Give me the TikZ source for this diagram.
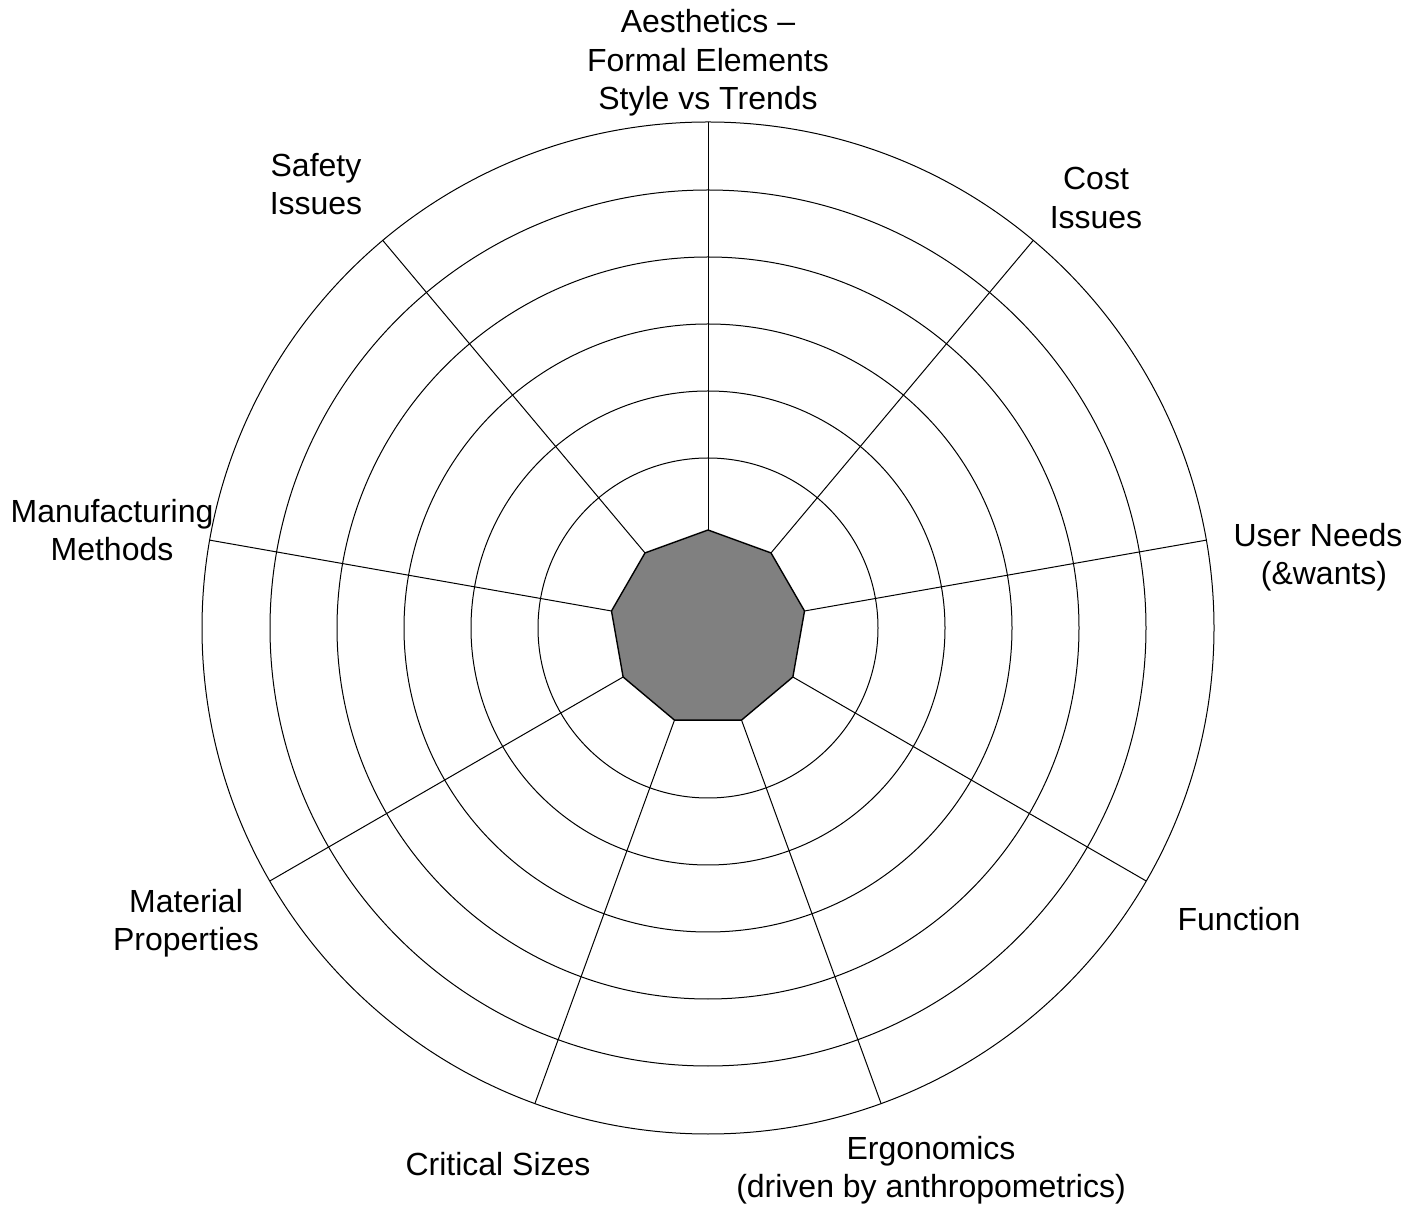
\documentclass[tikz,border=0pt]{standalone}
\usepackage{fontspec}
\setmainfont{Liberation Sans}
\usetikzlibrary{calc}
\begin{document}
\begin{tikzpicture}[x=0.5pt,y=0.5pt,
  ring/.style={draw=black,line width=0.5pt},
  spoke/.style={draw=black,line width=0.5pt},
  core/.style={draw=black,fill=gray!100!white,line width=0.7pt},
  lbl/.style={align=center,inner sep=0pt,font=\fontsize{16pt}{19.2pt}\selectfont}]
\useasboundingbox (0,0) rectangle (1409,1206);
\coordinate (c) at (708,578);
\foreach \r in {170,237,304,371,438,506}
  \draw[ring] (c) circle[radius=\r];
\foreach \i [evaluate=\i as \a using 90-40*(\i-1)] in {1,...,9} {
  \coordinate (v\i) at ($(c)+(\a:98)$);
  \coordinate (o\i) at ($(c)+(\a:506)$);
}
\foreach \i in {1,...,9}
  \draw[spoke] (v\i) -- (o\i);
\draw[core] (v1) -- (v2) -- (v3) -- (v4) -- (v5) -- (v6) -- (v7) -- (v8) -- (v9) -- cycle;
\node[lbl] (aes) at (708,1143) {Aesthetics --\\Formal Elements\\Style vs Trends};
\node[lbl] (safety) at (316,1022) {Safety\\Issues};
\node[lbl] (cost) at (1096,1008) {Cost\\Issues};
\node[lbl] (user) at (1318,649) {User Needs\\\hspace*{6pt}(\&wants)};
\node[lbl] (manuf) at (112,676) {Manufacturing\\Methods};
\node[lbl] (material) at (186,283) {Material\\Properties};
\node[lbl] (function) at (1239,287) {Function};
\node[lbl] (critical) at (498,42) {Critical Sizes};
\node[lbl] (ergo) at (931,36) {Ergonomics\\(driven by anthropometrics)};
\end{tikzpicture}
\end{document}
